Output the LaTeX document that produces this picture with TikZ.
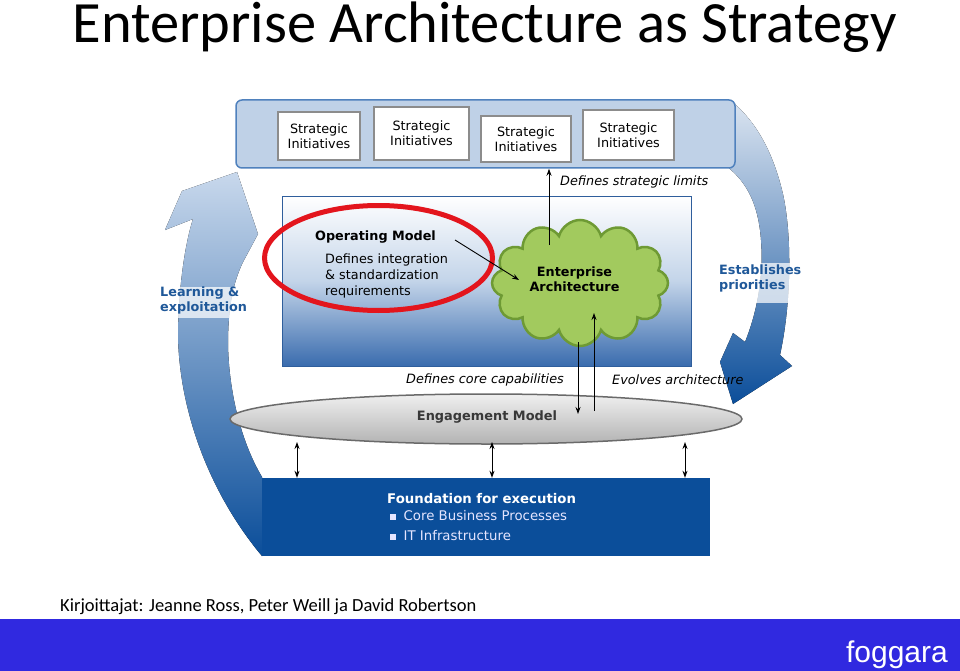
\documentclass[tikz,border=0pt]{standalone}
\usepackage{fontspec}
\setmainfont{DejaVu Sans}
\newfontfamily\calfont{Carlito}
\newfontfamily\arfont{Liberation Sans}
\usetikzlibrary{shapes.symbols,shapes.geometric,arrows.meta,shadows}
\definecolor{arcdark}{HTML}{0B4E9A}
\definecolor{arclightL}{HTML}{C8D8EC}
\definecolor{arclightR}{HTML}{DCE5F1}
\definecolor{bandfill}{HTML}{BFD1E7}
\definecolor{bandborder}{HTML}{4F81BD}
\definecolor{boxgray}{HTML}{8C8C8C}
\definecolor{midblue}{HTML}{3A6CAE}
\definecolor{midmid}{HTML}{C3D4E9}
\definecolor{midborder}{HTML}{2F5E9C}
\definecolor{redring}{HTML}{E3151D}
\definecolor{cloudfill}{HTML}{A2CA5E}
\definecolor{cloudborder}{HTML}{6E9A34}
\definecolor{lblue}{HTML}{1F5899}
\definecolor{fdblue}{HTML}{0B4E9A}
\definecolor{barblue}{HTML}{3029E0}
\definecolor{engborder}{HTML}{6A6A6A}
\newcommand\myfs[2]{\fontsize{#1}{#2}\selectfont}
\begin{document}
\begin{tikzpicture}[x=1pt,y=-1pt,
  sibox/.style={draw=boxgray, line width=1.3pt, fill=white, align=center, inner sep=0pt,
    font=\myfs{12.8}{15}, drop shadow={shadow xshift=1.2pt, shadow yshift=-1.2pt, fill=black!35, opacity=1}},
  lab/.style={font=\myfs{12.8}{15}\itshape, inner sep=0pt},
  bl/.style={font=\myfs{12.8}{15}\bfseries, text=lblue, inner sep=0pt, align=left},
  arr/.style={-{Stealth[length=7pt,width=5pt]}, line width=0.9pt},
  dbl/.style={{Stealth[length=7pt,width=5pt]}-{Stealth[length=7pt,width=5pt]}, line width=0.9pt},
  ftxt/.style={font=\myfs{13.3}{16}, text=white!90!blue, inner sep=0pt}]
\useasboundingbox (0,0) rectangle (960,671);
\fill[white] (0,0) rectangle (960,671);

% title and credits
\node[font=\calfont\myfs{58.5}{58.5}, anchor=base, inner sep=0pt] (title) at (484.5,43) {Enterprise Architecture as Strategy};
\node[font=\calfont\myfs{18.5}{18.5}, anchor=base west, inner sep=0pt] (cred) at (60,611) {Kirjoittajat: Jeanne Ross, Peter Weill ja David Robertson};
\fill[barblue] (0,619) rectangle (960,671);
\node[font=\arfont\myfs{30}{30}, text=white, anchor=base east, inner sep=0pt] (fog) at (948,662) {foggara};

% left cycle arc
\fill[top color=arclightL, bottom color=arcdark]
  (262,556) .. controls (215,500) and (180,420) .. (178,337)
  .. controls (178,300) and (183,250) .. (193,219)
  -- (165,230) -- (182,191) -- (237,172) -- (258,234) -- (243,262)
  .. controls (232,285) and (228,310) .. (228,345)
  .. controls (229,390) and (240,440) .. (262,477) -- cycle;
% right cycle arc
\fill[top color=arclightR, bottom color=arcdark]
  (730,100) .. controls (755,120) and (772,150) .. (782,190)
  .. controls (792,230) and (792,300) .. (780,355)
  -- (792,366) -- (733,404) -- (720,362) -- (733,333) -- (745,342)
  .. controls (758,310) and (765,270) .. (760,230)
  .. controls (756,200) and (745,180) .. (725,165) -- (720,110) -- cycle;
% light bands behind arc labels
\fill[white, opacity=0.72] (172,287) rectangle (236,318);
\fill[white, opacity=0.72] (745,263) rectangle (800,303);
\node[bl, anchor=west] (lx) at (160,300.5) {Learning \&\\exploitation};
\node[bl, anchor=west] (ep) at (719,278.5) {Establishes\\priorities};

% top band with strategic initiatives
\node[draw=bandborder, fill=bandfill, rounded corners=6pt, line width=1.5pt,
  minimum width=499, minimum height=68, inner sep=0pt] (tb) at (485.5,134) {};
\node[sibox, minimum width=82, minimum height=48] (si1) at (319,136) {Strategic\\Initiatives};
\node[sibox, minimum width=95, minimum height=53] (si2) at (421.5,133.5) {Strategic\\Initiatives};
\node[sibox, minimum width=90, minimum height=46] (si3) at (526,139) {Strategic\\Initiatives};
\node[sibox, minimum width=91, minimum height=50] (si4) at (628.5,135) {Strategic\\Initiatives};

% middle box
\node[draw=midborder, line width=0.8pt, top color=white, bottom color=midblue, middle color=midmid,
  minimum width=409, minimum height=170, inner sep=0pt] (mb) at (486.5,281) {};
\draw[redring, line width=5pt] (378.5,258) ellipse [x radius=114, y radius=52.5];
\node[font=\myfs{12.8}{15}\bfseries, anchor=west, inner sep=0pt] (omt) at (315,237) {Operating Model};
\node[font=\myfs{12.8}{16}, anchor=west, align=left, inner sep=0pt] (omd) at (325,276)
  {Defines integration\\\& standardization\\requirements};

% cloud
\node[cloud, cloud puffs=12, aspect=1.5, draw=cloudborder, fill=cloudfill, line width=2.5pt,
  minimum width=176, minimum height=126, inner sep=0pt] (ea) at (580,283) {};
\node[font=\myfs{12.8}{15}\bfseries, align=center, inner sep=0pt] (eat) at (574.5,279.5) {Enterprise\\Architecture};

% connectors in the middle
\coordinate (o1) at (455,240);
\coordinate (o2) at (519,280);
\draw[arr] (o1) -- (o2);
\coordinate (s1) at (549,245);
\draw[arr] (s1) -- (s1 |- tb.south);
\node[lab, anchor=west] (dsl) at (560,182) {Defines strategic limits};

% engagement model
\node[ellipse, draw=engborder, line width=1.5pt, top color=gray!12, middle color=gray!24, bottom color=gray!60,
  minimum width=512, minimum height=50, inner sep=0pt] (em) at (486,419) {};
\node[font=\myfs{12.9}{15}\bfseries, text=black!78, inner sep=0pt] (emt) at (487,416.5) {Engagement Model};
\coordinate (c1) at (578,342);
\coordinate (c1e) at (578,414);
\draw[arr] (c1) -- (c1e);
\coordinate (c2) at (594,411);
\coordinate (c2e) at (594,313);
\draw[arr] (c2) -- (c2e);
\node[lab, anchor=east] (dcc) at (564,380) {Defines core capabilities};
\node[lab, anchor=west] (eva) at (612,380) {Evolves architecture};

% foundation
\node[fill=fdblue, minimum width=448, minimum height=78, inner sep=0pt] (fd) at (486,517) {};
\node[font=\myfs{13.3}{16}\bfseries, text=white, anchor=west, inner sep=0pt] (fdt) at (387,499) {Foundation for execution};
\node[ftxt, anchor=west] (fb1) at (390,516) {\raisebox{0.5pt}{\rule{6pt}{6pt}}\hspace{7.5pt}Core Business Processes};
\node[ftxt, anchor=west] (fb2) at (390,536) {\raisebox{0.5pt}{\rule{6pt}{6pt}}\hspace{7.5pt}IT Infrastructure};

\foreach \i/\x in {1/297,2/492,3/685}{
  \coordinate (d\i) at (\x,442);
  \draw[dbl] (d\i) -- (d\i |- fd.north);
}
\end{tikzpicture}
\end{document}
